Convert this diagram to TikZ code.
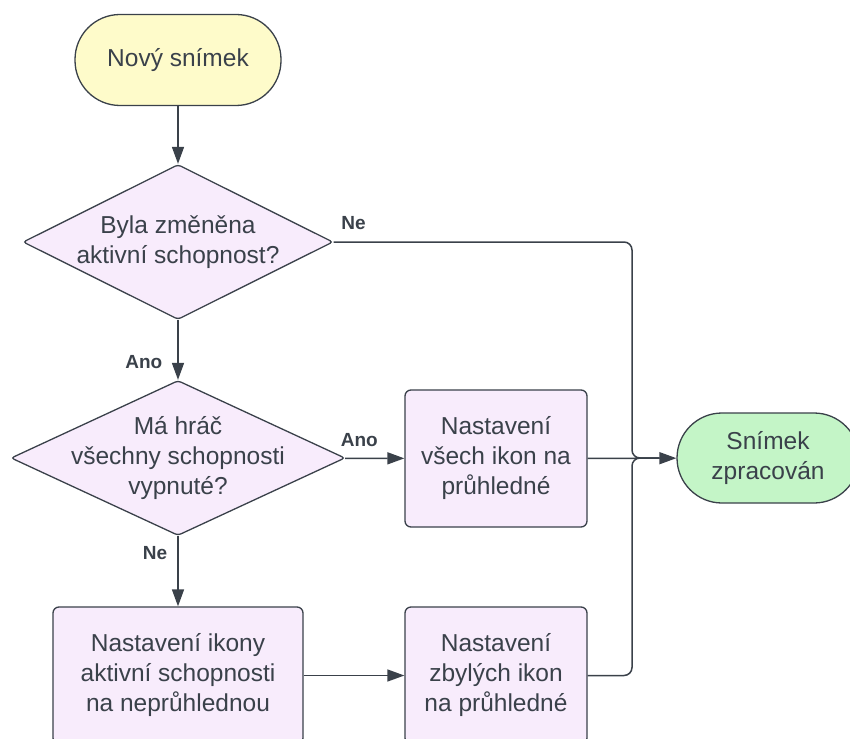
\documentclass[tikz,border=0pt]{standalone}
\usepackage{fontspec}
\setmainfont{Liberation Sans}
\usetikzlibrary{shapes.geometric,arrows.meta}

\definecolor{ink}{HTML}{3A414A}
\definecolor{startfill}{HTML}{FEFBCA}
\definecolor{procfill}{HTML}{F8ECFC}
\definecolor{endfill}{HTML}{C4F5C7}

\tikzset{
  base/.style={draw=ink, line width=1.3pt, text=ink, align=center,
    font=\fontsize{24.5}{30}\selectfont, inner sep=0pt},
  terminal/.style={base, rectangle, rounded corners=45pt},
  decision/.style={base, diamond, fill=procfill, rounded corners=3pt},
  process/.style={base, rectangle, fill=procfill, rounded corners=6pt,
    minimum height=137pt},
  caption/.style={text=ink, align=center, inner sep=0pt,
    font=\fontsize{24.5}{30}\selectfont},
  lbl/.style={text=ink, inner sep=0pt, font=\fontsize{19}{21}\selectfont\bfseries},
  flow/.style={draw=ink, line width=1.5pt, -{Triangle[length=17pt,width=12pt]}},
  busline/.style={draw=ink, line width=1.5pt, rounded corners=8pt},
}

\begin{document}
\begin{tikzpicture}[x=1pt,y=-1pt]
\useasboundingbox (0,0) rectangle (850,738);
\clip (0,0) rectangle (850,738);

% start and end terminals
\node[terminal, fill=startfill, minimum width=206pt, minimum height=91pt]
  (start) at (178,60) {Nový snímek};
\node[terminal, fill=endfill, minimum width=182pt, minimum height=90pt]
  (done) at (768,458) {Snímek\\zpracován};

% decisions (outline) with their questions
\node[decision, minimum width=310pt, minimum height=155pt] (d1) at (178,242) {};
\node[caption] (d1t) at (d1.center) {Byla změněna\\aktivní schopnost?};
\node[decision, minimum width=334pt, minimum height=155pt] (d2) at (178,458) {};
\node[caption] (d2t) at (d2.center) {Má hráč\\všechny schopnosti\\vypnuté?};

% processing steps
\node[process, minimum width=182pt] (allclear) at (496,458.5)
  {Nastavení\\všech ikon na\\průhledné};
\node[process, minimum width=250pt] (activeon) at (178,675.5)
  {Nastavení ikony\\aktivní schopnosti\\na neprůhlednou};
\node[process, minimum width=182pt] (restclear) at (496,675.5)
  {Nastavení\\zbylých ikon\\na průhledné};

% collecting line in front of the end terminal
\coordinate (bus) at (632,458);

% connectors
\draw[flow] (start) -- (d1);
\draw[flow] (d1) -- node[lbl, pos=0.7, anchor=east, xshift=-15pt] (yes1) {Ano} (d2);
\draw[flow] (d2) -- node[lbl, pos=0, anchor=south west, xshift=-5pt, yshift=11pt] (yes2) {Ano} (allclear);
\draw[flow] (d2) -- node[lbl, pos=0, anchor=north east, xshift=-10pt, yshift=-10pt] (no2) {Ne} (activeon);
\draw[flow] (activeon) -- (restclear);
\draw[flow] (allclear) -- (done);
\draw[busline] (d1.east) node[lbl, anchor=south west, xshift=7pt, yshift=12pt] (no1) {Ne}
  -| (bus) -- ([xshift=-17pt]done.west);
\draw[busline] (restclear.east) -| (bus) -- ([xshift=-17pt]done.west);
\end{tikzpicture}
\end{document}
